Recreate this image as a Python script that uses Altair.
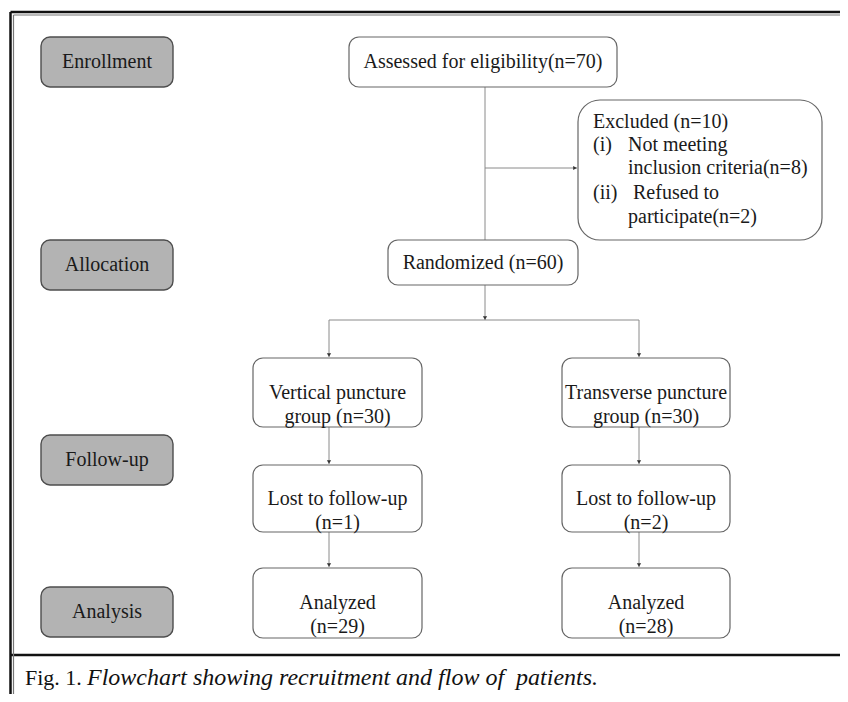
import altair as alt
import pandas as pd

# ---------------- content ----------------
stage_labels = ["Enrollment", "Allocation", "Follow-up", "Analysis"]

box_labels = [
    "Assessed for eligibility(n=70)",
    "Randomized (n=60)",
    "Vertical puncture\ngroup (n=30)",
    "Transverse puncture\ngroup (n=30)",
    "Lost to follow-up\n(n=1)",
    "Lost to follow-up\u00a0\n(n=2)",
    "Analyzed\n(n=29)",
    "Analyzed\n(n=28)",
]

excluded_lines = [
    "Excluded (n=10)",
    "(i)",
    "Not meeting",
    "inclusion criteria(n=8)",
    "(ii)",
    "Refused to",
    "participate(n=2)",
]

caption_regular = "Fig. 1."
caption_italic = "Flowchart showing recruitment and flow of\u00a0 patients."

# ---------------- layout (diagram units = page pixels) ----------------
stage_x = (41, 173)
stage_y = [(37, 87), (240, 290), (435, 485), (587, 637)]

box_xy = [
    (349, 617, 37, 87),
    (388, 578, 240, 285),
    (253, 422, 358, 427),
    (562, 730, 358, 427),
    (253, 422, 465, 532),
    (562, 730, 465, 532),
    (253, 422, 568, 638),
    (562, 730, 568, 638),
]
excl_box = (578, 822, 100, 240)
excl_pos = [(593, 122), (593, 145), (628, 145), (628, 168),
            (593, 193), (633, 193), (628, 217)]

# connectors: x, x2, y, y2
connectors = [
    (485, 485, 87, 240),
    (485, 577, 168, 168),
    (485, 485, 285, 320),
    (329, 639, 320, 320),
    (329, 329, 320, 357),
    (639, 639, 320, 357),
    (329, 329, 427, 464),
    (639, 639, 427, 464),
    (329, 329, 532, 567),
    (639, 639, 532, 567),
]
arrows_down = [(485, 318), (329, 355), (639, 355), (329, 462), (639, 462),
               (329, 565), (639, 565)]
arrows_right = [(575, 168)]

frame_thick = [(10.5, 10.5, 12, 702), (10.5, 848, 12, 12), (10.5, 848, 655, 655)]
frame_thin = [(13.5, 13.5, 15, 702), (13.5, 848, 15, 15)]

caption_pos = [(25, 678), (87, 678)]

# ---------------- tables ----------------
stages = pd.DataFrame({
    "label": stage_labels,
    "x": [stage_x[0]] * 4, "x2": [stage_x[1]] * 4,
    "y": [a for a, b in stage_y], "y2": [b for a, b in stage_y],
})
stages["cx"] = (stages.x + stages.x2) / 2
stages["cy"] = (stages.y + stages.y2) / 2

boxes = pd.DataFrame(box_xy, columns=["x", "x2", "y", "y2"])
boxes["label"] = box_labels
boxes["cx"] = (boxes.x + boxes.x2) / 2
boxes["cy"] = (boxes.y + boxes.y2) / 2

excl = pd.DataFrame([excl_box], columns=["x", "x2", "y", "y2"])
excl_text = pd.DataFrame(excl_pos, columns=["x", "y"])
excl_text["label"] = excluded_lines

conn = pd.DataFrame(connectors, columns=["x", "x2", "y", "y2"])
adown = pd.DataFrame(arrows_down, columns=["x", "y"])
aright = pd.DataFrame(arrows_right, columns=["x", "y"])
fthick = pd.DataFrame(frame_thick, columns=["x", "x2", "y", "y2"])
fthin = pd.DataFrame(frame_thin, columns=["x", "x2", "y", "y2"])
cap_reg = pd.DataFrame([caption_pos[0]], columns=["x", "y"])
cap_reg["label"] = [caption_regular]
cap_it = pd.DataFrame([caption_pos[1]], columns=["x", "y"])
cap_it["label"] = [caption_italic]

# ---------------- scales ----------------
W, H = 832, 686
xs = alt.Scale(domain=[8, 8 + W], nice=False, zero=False)
ys = alt.Scale(domain=[8, 8 + H], nice=False, zero=False, reverse=True)
X = lambda f="x": alt.X(f"{f}:Q", scale=xs, axis=None)
Y = lambda f="y": alt.Y(f"{f}:Q", scale=ys, axis=None)

FONT = "Liberation Serif"

rect_enc = dict(x=X(), x2="x2:Q", y=Y(), y2="y2:Q")

stage_rects = alt.Chart(stages).mark_rect(
    cornerRadius=9, fill="#b3b3b3", stroke="#4d4d4d", strokeWidth=1.4
).encode(**rect_enc)
stage_text = alt.Chart(stages).mark_text(
    font=FONT, fontSize=20, color="#1a1a1a", align="center", baseline="middle"
).encode(x=X("cx"), y=Y("cy"), text="label:N")

box_rects = alt.Chart(boxes).mark_rect(
    cornerRadius=10, fill="white", stroke="#666666", strokeWidth=1.2
).encode(**rect_enc)
box_text = alt.Chart(boxes).mark_text(
    font=FONT, fontSize=20, color="#1a1a1a", align="center", baseline="middle",
    lineBreak="\n", lineHeight=24
).encode(x=X("cx"), y=Y("cy"), text="label:N")

excl_rect = alt.Chart(excl).mark_rect(
    cornerRadius=22, fill="white", stroke="#666666", strokeWidth=1.2
).encode(**rect_enc)
excl_txt = alt.Chart(excl_text).mark_text(
    font=FONT, fontSize=20, color="#1a1a1a", align="left", baseline="middle"
).encode(x=X(), y=Y(), text="label:N")

conn_rules = alt.Chart(conn).mark_rule(color="#8a8a8a", strokeWidth=1).encode(
    x=X(), x2="x2:Q", y=Y(), y2="y2:Q")
arr_d = alt.Chart(adown).mark_point(
    shape="triangle-down", filled=True, size=18, color="#333333", opacity=1
).encode(x=X(), y=Y())
arr_r = alt.Chart(aright).mark_point(
    shape="triangle-right", filled=True, size=18, color="#333333", opacity=1
).encode(x=X(), y=Y())

frame1 = alt.Chart(fthick).mark_rule(color="#111111", strokeWidth=2.5).encode(
    x=X(), x2="x2:Q", y=Y(), y2="y2:Q")
frame2 = alt.Chart(fthin).mark_rule(color="#777777", strokeWidth=1.2).encode(
    x=X(), x2="x2:Q", y=Y(), y2="y2:Q")

cap1 = alt.Chart(cap_reg).mark_text(
    font=FONT, fontSize=22, color="#111111", align="left", baseline="middle"
).encode(x=X(), y=Y(), text="label:N")
cap2 = alt.Chart(cap_it).mark_text(
    font=FONT, fontSize=24, fontStyle="italic", color="#111111", align="left",
    baseline="middle"
).encode(x=X(), y=Y(), text="label:N")

chart = alt.layer(
    frame1, frame2, conn_rules, arr_d, arr_r,
    stage_rects, stage_text, box_rects, box_text, excl_rect, excl_txt,
    cap1, cap2,
).properties(
    width=W, height=H, padding=0, autosize=alt.AutoSizeParams(type="none"),
    background="white"
).configure_view(stroke=None)

chart.save("out.html", embed_options={"renderer": "svg", "actions": False})
